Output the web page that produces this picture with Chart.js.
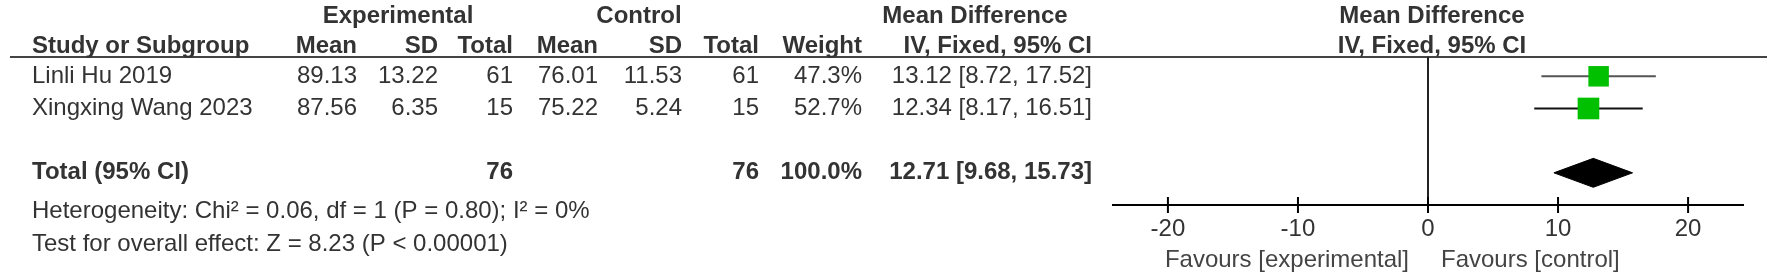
<!DOCTYPE html>
<html>
<head>
<meta charset="utf-8">
<script src="https://cdn.jsdelivr.net/npm/chart.js@4"></script>
<style>
  html, body { margin: 0; padding: 0; background: #fff; }
  canvas { display: block; }
</style>
</head>
<body>
<canvas id="forest" width="1772" height="277"></canvas>
<script>
// Study data
const studies = ["Linli Hu 2019", "Xingxing Wang 2023"];
const expMean = [89.13, 87.56];
const expSD = [13.22, 6.35];
const expTotal = [61, 15];
const ctrlMean = [76.01, 75.22];
const ctrlSD = [11.53, 5.24];
const ctrlTotal = [61, 15];
const weights = [47.3, 52.7];
const meanDiff = [13.12, 12.34];
const ciLow = [8.72, 8.17];
const ciHigh = [17.52, 16.51];
const rows = [1, 2];

// Pooled result
const totalRow = 4;
const totalExp = 76;
const totalCtrl = 76;
const totalWeight = 100.0;
const totalMD = 12.71;
const totalLow = 9.68;
const totalHigh = 15.73;

const heterogeneity = "Heterogeneity: Chi\u00B2 = 0.06, df = 1 (P = 0.80); I\u00B2 = 0%";
const overallEffect = "Test for overall effect: Z = 8.23 (P < 0.00001)";

const tickValues = [-20, -10, 0, 10, 20];
const axisMin = -24.3;
const axisMax = 24.3;

const FONT = '"Liberation Sans", Arial, sans-serif';
const TEXT = "#333";

function fmtCI(m, l, h) {
    return m.toFixed(2) + " [" + l.toFixed(2) + ", " + h.toFixed(2) + "]";
}

function txt(ctx, s, x, y, align, bold, color) {
    ctx.font = (bold ? "bold " : "") + "24px " + FONT;
    ctx.textAlign = align;
    ctx.textBaseline = "middle";
    ctx.fillStyle = color || TEXT;
    ctx.fillText(s, x, y);
}

// CI whiskers, one line dataset per study
const ciSets = studies.map(function(s, i) {
    return {
        type: "line",
        data: [{ x: ciLow[i], y: rows[i] }, { x: ciHigh[i], y: rows[i] }],
        borderColor: i === 0 ? "#555" : "#111",
        borderWidth: 2,
        pointRadius: 0,
        tension: 0,
        order: 2
    };
});

// Weighted squares
const squareSet = {
    type: "scatter",
    data: meanDiff.map(function(m, i) { return { x: m, y: rows[i] }; }),
    pointStyle: "rect",
    pointRadius: weights.map(function(w) { return 15.3 * Math.sqrt(w / 52.7); }),
    backgroundColor: "#00c000",
    borderColor: "#00c000",
    borderWidth: 0,
    order: 1
};

// Pooled diamond
const dh = 0.45;
const diamondSet = {
    type: "line",
    data: [
        { x: totalLow, y: totalRow },
        { x: totalMD, y: totalRow - dh },
        { x: totalHigh, y: totalRow },
        { x: totalMD, y: totalRow + dh },
        { x: totalLow, y: totalRow }
    ],
    borderColor: "#000",
    backgroundColor: "#000",
    borderWidth: 1,
    pointRadius: 0,
    tension: 0,
    fill: "shape",
    order: 1
};

const forestDecor = {
    id: "forestDecor",
    beforeDatasetsDraw: function(chart) {
        const ctx = chart.ctx;
        const x = chart.scales.x;
        const area = chart.chartArea;
        ctx.save();
        // header rule
        ctx.strokeStyle = "#444";
        ctx.lineWidth = 2;
        ctx.beginPath();
        ctx.moveTo(10, area.top);
        ctx.lineTo(1767, area.top);
        ctx.stroke();
        // line of no effect
        const x0 = x.getPixelForValue(0);
        ctx.strokeStyle = "#222";
        ctx.beginPath();
        ctx.moveTo(x0, area.top);
        ctx.lineTo(x0, area.bottom);
        ctx.stroke();
        // axis
        ctx.strokeStyle = "#000";
        ctx.beginPath();
        ctx.moveTo(x.getPixelForValue(axisMin), area.bottom);
        ctx.lineTo(x.getPixelForValue(axisMax), area.bottom);
        ctx.stroke();
        tickValues.forEach(function(v) {
            const px = x.getPixelForValue(v);
            ctx.beginPath();
            ctx.moveTo(px, area.bottom - 8);
            ctx.lineTo(px, area.bottom + 8);
            ctx.stroke();
        });
        ctx.restore();
    },
    afterDraw: function(chart) {
        const ctx = chart.ctx;
        const x = chart.scales.x;
        const y = chart.scales.y;
        const area = chart.chartArea;
        const x0 = x.getPixelForValue(0);
        ctx.save();

        // column headers
        txt(ctx, "Experimental", 398, 16, "center", true);
        txt(ctx, "Control", 639, 16, "center", true);
        txt(ctx, "Mean Difference", 975, 16, "center", true);
        txt(ctx, "Mean Difference", 1432, 16, "center", true);
        txt(ctx, "Study or Subgroup", 32, 46, "left", true);
        txt(ctx, "Mean", 357, 46, "right", true);
        txt(ctx, "SD", 438, 46, "right", true);
        txt(ctx, "Total", 513, 46, "right", true);
        txt(ctx, "Mean", 598, 46, "right", true);
        txt(ctx, "SD", 682, 46, "right", true);
        txt(ctx, "Total", 759, 46, "right", true);
        txt(ctx, "Weight", 862, 46, "right", true);
        txt(ctx, "IV, Fixed, 95% CI", 1092, 46, "right", true);
        txt(ctx, "IV, Fixed, 95% CI", 1432, 46, "center", true);

        // study rows
        studies.forEach(function(s, i) {
            const py = y.getPixelForValue(rows[i]);
            txt(ctx, s, 32, py, "left", false);
            txt(ctx, expMean[i].toFixed(2), 357, py, "right", false);
            txt(ctx, expSD[i].toFixed(2), 438, py, "right", false);
            txt(ctx, String(expTotal[i]), 513, py, "right", false);
            txt(ctx, ctrlMean[i].toFixed(2), 598, py, "right", false);
            txt(ctx, ctrlSD[i].toFixed(2), 682, py, "right", false);
            txt(ctx, String(ctrlTotal[i]), 759, py, "right", false);
            txt(ctx, weights[i].toFixed(1) + "%", 862, py, "right", false);
            txt(ctx, fmtCI(meanDiff[i], ciLow[i], ciHigh[i]), 1092, py, "right", false);
        });

        // total row
        const ty = y.getPixelForValue(totalRow);
        txt(ctx, "Total (95% CI)", 32, ty, "left", true);
        txt(ctx, String(totalExp), 513, ty, "right", true);
        txt(ctx, String(totalCtrl), 759, ty, "right", true);
        txt(ctx, totalWeight.toFixed(1) + "%", 862, ty, "right", true);
        txt(ctx, fmtCI(totalMD, totalLow, totalHigh), 1092, ty, "right", true);

        txt(ctx, heterogeneity, 32, 211, "left", false);
        txt(ctx, overallEffect, 32, 244, "left", false);

        // tick labels
        tickValues.forEach(function(v) {
            txt(ctx, String(v), x.getPixelForValue(v), area.bottom + 24, "center", false);
        });
        txt(ctx, "Favours [experimental]", x0 - 19, area.bottom + 55, "right", false, "#444");
        txt(ctx, "Favours [control]", x0 + 13, area.bottom + 55, "left", false, "#444");

        ctx.restore();
    }
};

const ctx = document.getElementById("forest").getContext("2d");
new Chart(ctx, {
    type: "scatter",
    data: { datasets: ciSets.concat([squareSet, diamondSet]) },
    options: {
        responsive: false,
        animation: false,
        layout: { padding: { left: 1112, right: 28, top: 57, bottom: 72 } },
        scales: {
            x: { type: "linear", min: axisMin, max: axisMax, display: false },
            y: { type: "linear", min: 0.4, max: 5, reverse: true, display: false }
        },
        plugins: {
            legend: { display: false },
            tooltip: { enabled: false }
        }
    },
    plugins: [forestDecor]
});
</script>
</body>
</html>
